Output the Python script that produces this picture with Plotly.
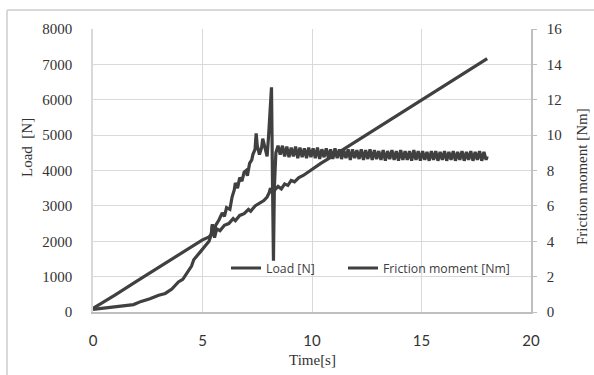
import plotly.graph_objects as go

# ---- data ----
load_time = [0.0, 0.5, 1.0, 2.0, 3.0, 4.0, 4.6, 5.0, 5.3, 5.4, 5.45, 5.5, 5.55, 5.65, 5.8,
             6.0, 6.2, 6.4, 6.5, 6.7, 6.9, 7.1, 7.2, 7.4, 7.6, 7.8, 7.95, 8.05, 8.1, 8.2,
             8.3, 8.45, 8.6, 8.75, 8.9, 9.05, 9.2, 9.4, 9.6, 9.8, 10.0, 10.4, 11.0, 12.0,
             13.0, 14.0, 15.0, 16.0, 17.0, 18.0]
load_N = [100, 280, 480, 870, 1260, 1650, 1890, 2040, 2120, 2200, 2480, 2250, 2100, 2350, 2300,
          2450, 2500, 2640, 2580, 2730, 2780, 2900, 2850, 3000, 3080, 3150, 3250, 3380, 3500, 3350,
          3450, 3550, 3480, 3620, 3580, 3720, 3680, 3800, 3860, 3950, 4040, 4200, 4430, 4820,
          5210, 5600, 5990, 6380, 6770, 7160]

fric_time = [0.0, 0.5, 1.0, 1.5, 1.85, 2.2, 2.6, 3.0, 3.3, 3.6, 3.9, 4.1, 4.3, 4.5, 4.6, 4.75,
             4.9, 5.1, 5.3, 5.4, 5.45, 5.5, 5.6, 5.75, 5.9, 6.0, 6.1, 6.25, 6.35, 6.45, 6.5,
             6.6, 6.7, 6.8, 6.9, 7.0, 7.05, 7.15, 7.25, 7.3, 7.4, 7.45, 7.5, 7.6, 7.7, 7.75,
             7.85, 7.95, 8.02, 8.08, 8.15, 8.2, 8.24, 8.28, 8.35, 8.45, 8.55,
             8.65, 8.75, 8.85, 8.95, 9.05, 9.15, 9.25, 9.35, 9.45, 9.55, 9.65, 9.75, 9.85, 9.95,
             10.05, 10.15, 10.25, 10.35, 10.45, 10.55, 10.65, 10.75, 10.85, 10.95, 11.05, 11.15,
             11.25, 11.35, 11.45, 11.55, 11.65, 11.75, 11.85, 11.95, 12.05, 12.15, 12.25, 12.35,
             12.45, 12.55, 12.65, 12.75, 12.85, 12.95, 13.05, 13.15, 13.25, 13.35, 13.45, 13.55,
             13.65, 13.75, 13.85, 13.95, 14.05, 14.15, 14.25, 14.35, 14.45, 14.55, 14.65, 14.75,
             14.85, 14.95, 15.05, 15.15, 15.25, 15.35, 15.45, 15.55, 15.65, 15.75, 15.85, 15.95,
             16.05, 16.15, 16.25, 16.35, 16.45, 16.55, 16.65, 16.75, 16.85, 16.95, 17.05, 17.15,
             17.25, 17.35, 17.45, 17.55, 17.65, 17.75, 17.85, 17.95, 18.0]
fric_Nm = [0.15, 0.22, 0.3, 0.38, 0.42, 0.6, 0.75, 0.95, 1.05, 1.3, 1.7, 1.85, 2.2, 2.6, 2.95, 3.2,
           3.4, 3.7, 4.0, 4.4, 4.9, 4.3, 4.9, 5.2, 5.6, 5.4, 5.9, 5.8, 6.5, 6.9, 7.3,
           7.0, 7.6, 7.4, 7.9, 8.0, 7.7, 8.4, 8.6, 8.9, 9.2, 10.1, 9.4, 8.9, 9.3, 9.8,
           9.3, 8.8, 10.0, 11.2, 12.7, 7.0, 2.9, 7.0, 9.0, 9.4, 8.9,
           9.4, 8.8, 9.35, 8.75, 9.3, 8.8, 9.35, 8.7, 9.3, 8.75, 9.25, 8.7, 9.3, 8.75,
           9.25, 8.7, 9.3, 8.65, 9.2, 8.75, 9.25, 8.7, 9.2, 8.65, 9.25, 8.7,
           9.2, 8.65, 9.15, 8.7, 9.2, 8.6, 9.2, 8.7, 9.15, 8.65, 9.2, 8.6,
           9.15, 8.65, 9.2, 8.6, 9.15, 8.65, 9.1, 8.6, 9.15, 8.55, 9.1, 8.65,
           9.15, 8.6, 9.1, 8.55, 9.15, 8.6, 9.1, 8.6, 9.1, 8.55, 9.15, 8.6,
           9.1, 8.55, 9.1, 8.6, 9.05, 8.55, 9.1, 8.6, 9.1, 8.55, 9.05, 8.6,
           9.1, 8.55, 9.05, 8.6, 9.1, 8.55, 9.05, 8.6, 9.1, 8.55, 9.05, 8.6,
           9.1, 8.55, 9.05, 8.6, 9.1, 8.55, 9.05, 8.6, 8.8]

x_ticks = [0, 5, 10, 15, 20]
y_ticks = [0, 1000, 2000, 3000, 4000, 5000, 6000, 7000, 8000]
y2_ticks = [0, 2, 4, 6, 8, 10, 12, 14, 16]

LINE = "#404040"
GRID = "#d9d9d9"
SERIF = "Liberation Serif"
SANS = "Lato"
TXT = "#333333"

fig = go.Figure()
fig.add_trace(go.Scatter(x=load_time, y=load_N, mode="lines", name="Load [N]",
                         legend="legend", line=dict(color=LINE, width=3.2)))
fig.add_trace(go.Scatter(x=fric_time, y=fric_Nm, mode="lines", name="Friction moment [Nm]",
                         yaxis="y2", legend="legend2", line=dict(color=LINE, width=3.2)))

# plot area geometry (px)
L, R, T, B = 93, 531, 29, 312
W, H = 594, 375


def px(xp):
    return (xp - L) / (R - L)


def py(yp):
    return (B - yp) / (B - T)


legend_font = dict(family="Open Sans", size=12.3, color="#404040")
fig.update_layout(
    width=W, height=H,
    margin=dict(l=L, r=W - R, t=T, b=H - B, pad=0),
    paper_bgcolor="white", plot_bgcolor="white",
    showlegend=True,
    legend=dict(orientation="h", x=px(226), y=py(268), xanchor="left", yanchor="middle",
                bgcolor="rgba(0,0,0,0)", font=legend_font),
    legend2=dict(orientation="h", x=px(343), y=py(268), xanchor="left", yanchor="middle",
                 bgcolor="rgba(0,0,0,0)", font=legend_font),
    xaxis=dict(range=[0, 20], tickvals=x_ticks, showgrid=True, gridcolor=GRID, gridwidth=1,
               showline=True, linecolor="#bfbfbf", linewidth=1.5, zeroline=False,
               ticks="", ticklabelstandoff=14,
               tickfont=dict(family=SANS, size=15, color=TXT)),
    yaxis=dict(range=[0, 8000], tickvals=y_ticks, showgrid=True, gridcolor=GRID, gridwidth=1,
               showline=True, linecolor=GRID, linewidth=1.5, zeroline=False,
               ticks="", ticklabelstandoff=16,
               tickfont=dict(family=SERIF, size=15, color=TXT)),
    yaxis2=dict(range=[0, 16], tickvals=y2_ticks, overlaying="y", side="right",
                showgrid=False, showline=True, linecolor="#bfbfbf", linewidth=1.5,
                zeroline=False, ticks="outside", ticklen=4, tickcolor="#bfbfbf",
                ticklabelstandoff=7,
                tickfont=dict(family=SERIF, size=15, color=TXT)),
    annotations=[
        dict(text="Time[s]", x=px(312), y=py(360), xref="paper", yref="paper",
             xanchor="center", yanchor="middle",
             showarrow=False, font=dict(family=SERIF, size=15, color=TXT)),
        dict(text="Load  [N]", x=px(27), y=py(148), xref="paper", yref="paper",
             xanchor="center", yanchor="middle",
             showarrow=False, textangle=-90, font=dict(family=SERIF, size=15, color=TXT)),
        dict(text="Friction moment [Nm]", x=px(582), y=py(177), xref="paper", yref="paper",
             xanchor="center", yanchor="middle",
             showarrow=False, textangle=-90, font=dict(family=SERIF, size=15, color=TXT)),
    ],
    shapes=[
        dict(type="line", xref="paper", yref="paper", x0=px(7), x1=px(594), y0=py(10), y1=py(10),
             line=dict(color=GRID, width=2)),
        dict(type="line", xref="paper", yref="paper", x0=px(7), x1=px(7), y0=py(10), y1=py(375),
             line=dict(color=GRID, width=2)),
    ],
)

fig.write_html("out.html", config={"displayModeBar": False},
               post_script="document.body.style.margin='0px';")
